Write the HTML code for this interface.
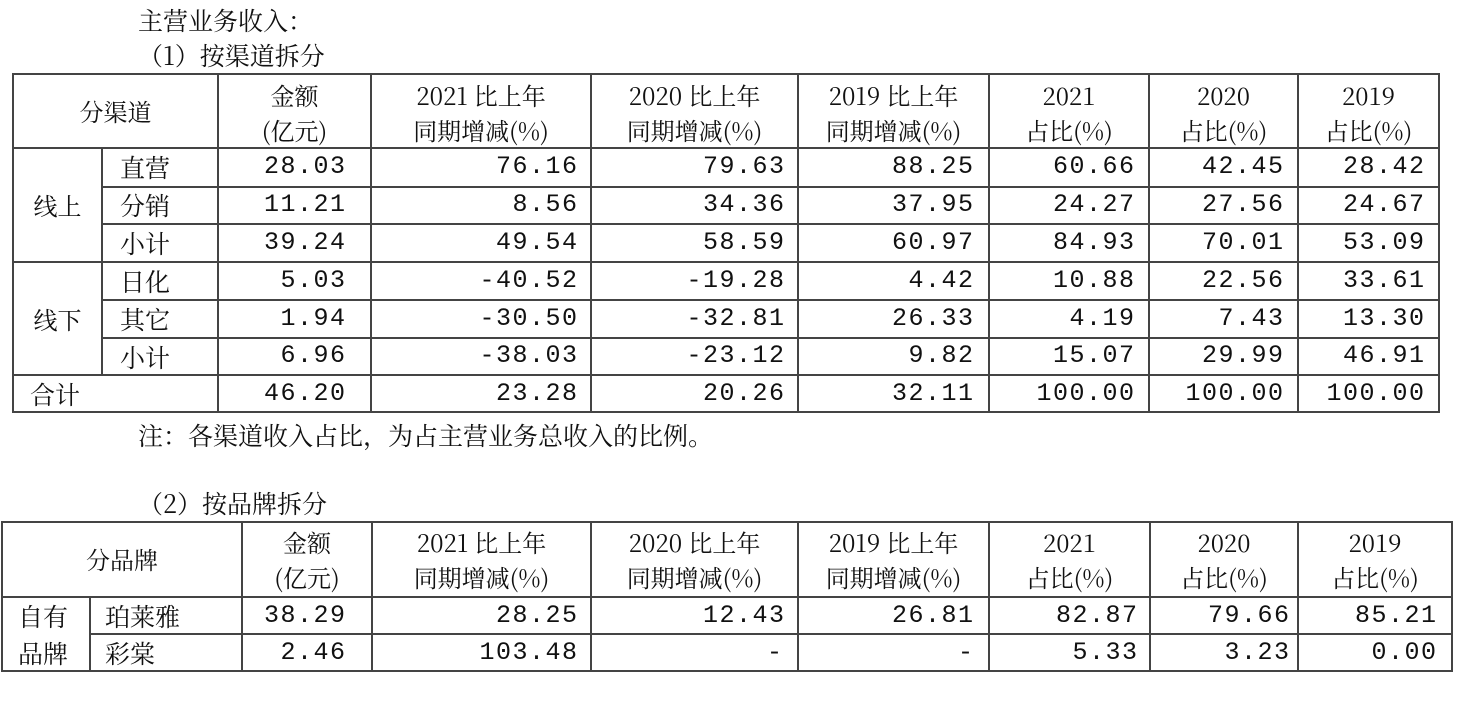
<!DOCTYPE html>
<html><head><meta charset="utf-8"><style>
body{margin:0;width:1464px;height:709px;background:#fff;position:relative;overflow:hidden;font-family:"Noto Serif CJK SC","Liberation Serif",serif;color:#111}
.t{position:absolute;font-size:25px;line-height:26px;white-space:nowrap}
.c{position:absolute;font-size:24px;line-height:36px;white-space:nowrap;text-align:center}
.n{position:absolute;font-family:"Liberation Mono","Noto Serif CJK SC",monospace;font-size:25px;letter-spacing:1.5px;margin-right:-1.5px;line-height:36px;text-align:right;white-space:nowrap}
svg{position:absolute;left:0;top:0}
</style></head><body>
<svg width="1464" height="709">
<g stroke="#444" stroke-width="2" fill="none">
<rect x="13" y="74" width="1426" height="338"/>
<line x1="13" y1="148" x2="1439" y2="148"/>
<line x1="102" y1="187" x2="1439" y2="187"/>
<line x1="102" y1="224" x2="1439" y2="224"/>
<line x1="13" y1="262" x2="1439" y2="262"/>
<line x1="102" y1="300" x2="1439" y2="300"/>
<line x1="102" y1="338" x2="1439" y2="338"/>
<line x1="13" y1="375" x2="1439" y2="375"/>
<line x1="102" y1="148" x2="102" y2="375"/>
<line x1="218" y1="74" x2="218" y2="412"/>
<line x1="371" y1="74" x2="371" y2="412"/>
<line x1="591" y1="74" x2="591" y2="412"/>
<line x1="798" y1="74" x2="798" y2="412"/>
<line x1="989" y1="74" x2="989" y2="412"/>
<line x1="1149" y1="74" x2="1149" y2="412"/>
<line x1="1298" y1="74" x2="1298" y2="412"/>

<rect x="2" y="522" width="1450" height="149"/>
<line x1="2" y1="597" x2="1452" y2="597"/>
<line x1="90" y1="634" x2="1452" y2="634"/>
<line x1="90" y1="597" x2="90" y2="671"/>
<line x1="242" y1="522" x2="242" y2="671"/>
<line x1="372" y1="522" x2="372" y2="671"/>
<line x1="591" y1="522" x2="591" y2="671"/>
<line x1="798" y1="522" x2="798" y2="671"/>
<line x1="989" y1="522" x2="989" y2="671"/>
<line x1="1150" y1="522" x2="1150" y2="671"/>
<line x1="1298" y1="522" x2="1298" y2="671"/>
</g></svg>

<div class="t" style="left:138px;top:7px">主营业务收入：</div>
<div class="t" style="left:138px;top:42px">（1）按渠道拆分</div>

<div class="c" style="left:13px;top:93px;width:205px">分渠道</div>
<div class="c" style="left:218px;top:77px;width:153px">金额</div><div class="c" style="left:218px;top:112px;width:153px">(亿元)</div>
<div class="c" style="left:371px;top:77px;width:220px">2021 比上年</div><div class="c" style="left:371px;top:112px;width:220px">同期增减(%)</div>
<div class="c" style="left:591px;top:77px;width:207px">2020 比上年</div><div class="c" style="left:591px;top:112px;width:207px">同期增减(%)</div>
<div class="c" style="left:798px;top:77px;width:191px">2019 比上年</div><div class="c" style="left:798px;top:112px;width:191px">同期增减(%)</div>
<div class="c" style="left:989px;top:77px;width:160px">2021</div><div class="c" style="left:989px;top:112px;width:160px">占比(%)</div>
<div class="c" style="left:1149px;top:77px;width:149px">2020</div><div class="c" style="left:1149px;top:112px;width:149px">占比(%)</div>
<div class="c" style="left:1298px;top:77px;width:141px">2019</div><div class="c" style="left:1298px;top:112px;width:141px">占比(%)</div>

<div class="c" style="left:13px;top:187px;width:89px">线上</div>
<div class="c" style="left:13px;top:301px;width:89px">线下</div>
<div class="t" style="left:120px;top:154px">直营</div>
<div class="t" style="left:120px;top:192px">分销</div>
<div class="t" style="left:120px;top:230px">小计</div>
<div class="t" style="left:120px;top:268px">日化</div>
<div class="t" style="left:120px;top:306px">其它</div>
<div class="t" style="left:120px;top:344px">小计</div>
<div class="t" style="left:30px;top:381px">合计</div>

<div class="t" style="left:138px;top:422px">注：各渠道收入占比，为占主营业务总收入的比例。</div>
<div class="t" style="left:138px;top:490px">（2）按品牌拆分</div>

<div class="c" style="left:2px;top:541px;width:240px">分品牌</div>
<div class="c" style="left:242px;top:524px;width:130px">金额</div><div class="c" style="left:242px;top:559px;width:130px">(亿元)</div>
<div class="c" style="left:372px;top:524px;width:219px">2021 比上年</div><div class="c" style="left:372px;top:559px;width:219px">同期增减(%)</div>
<div class="c" style="left:591px;top:524px;width:207px">2020 比上年</div><div class="c" style="left:591px;top:559px;width:207px">同期增减(%)</div>
<div class="c" style="left:798px;top:524px;width:191px">2019 比上年</div><div class="c" style="left:798px;top:559px;width:191px">同期增减(%)</div>
<div class="c" style="left:989px;top:524px;width:161px">2021</div><div class="c" style="left:989px;top:559px;width:161px">占比(%)</div>
<div class="c" style="left:1150px;top:524px;width:148px">2020</div><div class="c" style="left:1150px;top:559px;width:148px">占比(%)</div>
<div class="c" style="left:1298px;top:524px;width:154px">2019</div><div class="c" style="left:1298px;top:559px;width:154px">占比(%)</div>
<div class="t" style="left:18px;top:603px">自有</div>
<div class="t" style="left:18px;top:640px">品牌</div>
<div class="t" style="left:105px;top:603px">珀莱雅</div>
<div class="t" style="left:105px;top:640px">彩棠</div>

<div class="n" style="right:1119px;top:149px">28.03</div><div class="n" style="right:887px;top:149px">76.16</div><div class="n" style="right:680px;top:149px">79.63</div><div class="n" style="right:491px;top:149px">88.25</div><div class="n" style="right:330px;top:149px">60.66</div><div class="n" style="right:181px;top:149px">42.45</div><div class="n" style="right:40px;top:149px">28.42</div>
<div class="n" style="right:1119px;top:187px">11.21</div><div class="n" style="right:887px;top:187px">8.56</div><div class="n" style="right:680px;top:187px">34.36</div><div class="n" style="right:491px;top:187px">37.95</div><div class="n" style="right:330px;top:187px">24.27</div><div class="n" style="right:181px;top:187px">27.56</div><div class="n" style="right:40px;top:187px">24.67</div>
<div class="n" style="right:1119px;top:225px">39.24</div><div class="n" style="right:887px;top:225px">49.54</div><div class="n" style="right:680px;top:225px">58.59</div><div class="n" style="right:491px;top:225px">60.97</div><div class="n" style="right:330px;top:225px">84.93</div><div class="n" style="right:181px;top:225px">70.01</div><div class="n" style="right:40px;top:225px">53.09</div>
<div class="n" style="right:1119px;top:263px">5.03</div><div class="n" style="right:887px;top:263px">-40.52</div><div class="n" style="right:680px;top:263px">-19.28</div><div class="n" style="right:491px;top:263px">4.42</div><div class="n" style="right:330px;top:263px">10.88</div><div class="n" style="right:181px;top:263px">22.56</div><div class="n" style="right:40px;top:263px">33.61</div>
<div class="n" style="right:1119px;top:301px">1.94</div><div class="n" style="right:887px;top:301px">-30.50</div><div class="n" style="right:680px;top:301px">-32.81</div><div class="n" style="right:491px;top:301px">26.33</div><div class="n" style="right:330px;top:301px">4.19</div><div class="n" style="right:181px;top:301px">7.43</div><div class="n" style="right:40px;top:301px">13.30</div>
<div class="n" style="right:1119px;top:338px">6.96</div><div class="n" style="right:887px;top:338px">-38.03</div><div class="n" style="right:680px;top:338px">-23.12</div><div class="n" style="right:491px;top:338px">9.82</div><div class="n" style="right:330px;top:338px">15.07</div><div class="n" style="right:181px;top:338px">29.99</div><div class="n" style="right:40px;top:338px">46.91</div>
<div class="n" style="right:1119px;top:376px">46.20</div><div class="n" style="right:887px;top:376px">23.28</div><div class="n" style="right:680px;top:376px">20.26</div><div class="n" style="right:491px;top:376px">32.11</div><div class="n" style="right:330px;top:376px">100.00</div><div class="n" style="right:181px;top:376px">100.00</div><div class="n" style="right:40px;top:376px">100.00</div>

<div class="n" style="right:1119px;top:598px">38.29</div><div class="n" style="right:887px;top:598px">28.25</div><div class="n" style="right:680px;top:598px">12.43</div><div class="n" style="right:491px;top:598px">26.81</div><div class="n" style="right:327px;top:598px">82.87</div><div class="n" style="right:175px;top:598px">79.66</div><div class="n" style="right:28px;top:598px">85.21</div>
<div class="n" style="right:1119px;top:635px">2.46</div><div class="n" style="right:887px;top:635px">103.48</div><div class="n" style="right:682px;top:635px">-</div><div class="n" style="right:491px;top:635px">-</div><div class="n" style="right:327px;top:635px">5.33</div><div class="n" style="right:175px;top:635px">3.23</div><div class="n" style="right:28px;top:635px">0.00</div>
</body></html>
